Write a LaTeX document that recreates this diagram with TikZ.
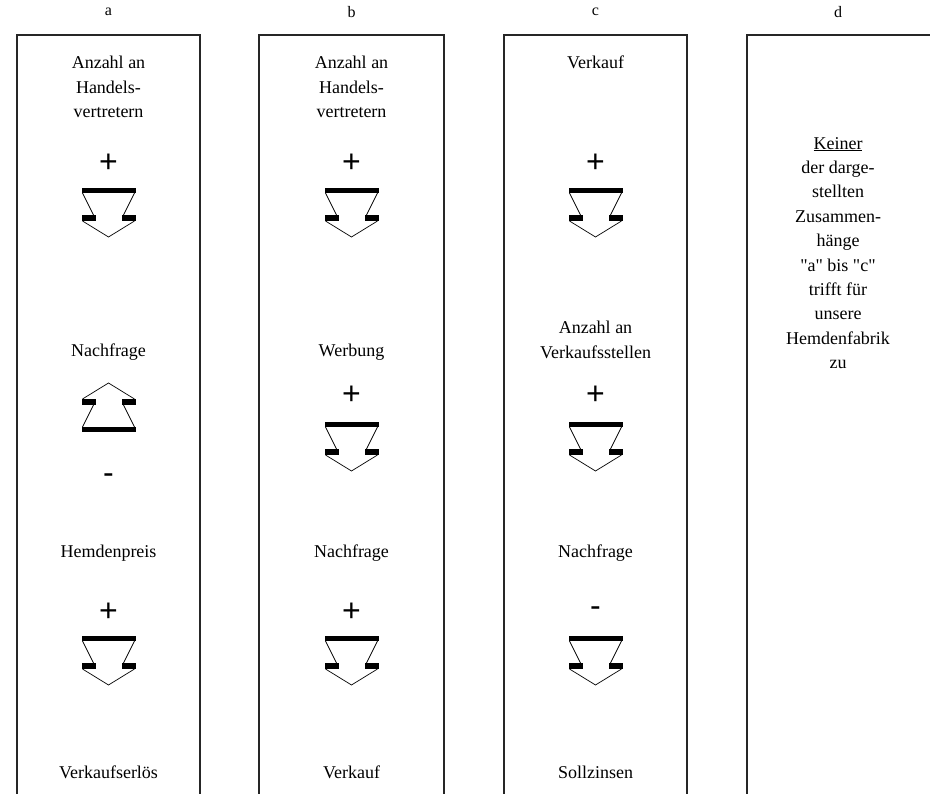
\documentclass[tikz,border=0pt]{standalone}
\usepackage{fontspec}
\setmainfont{Liberation Serif}
\newfontfamily\serif{Liberation Serif}
\newfontfamily\signfont{Liberation Sans}
\begin{document}
\begin{tikzpicture}[x=1pt,y=-1pt,
  lbl/.style={font=\serif\fontsize{18}{24.5}\selectfont, align=center, inner sep=0pt},
  hdr/.style={font=\serif\fontsize{16}{19}\selectfont, inner sep=0pt},
  sgn/.style={font=\signfont\fontsize{32}{32}\selectfont, inner sep=0pt},
  col/.style={line width=1.5pt, draw=black!85},
  darr/.pic={
    \fill (-27,0) rectangle (27,5);
    \draw[line width=0.8pt] (-26,5) -- (-15,27);
    \draw[line width=0.8pt] (26,5) -- (15,27);
    \fill (-27,27) rectangle (-13,33);
    \fill (13,27) rectangle (27,33);
    \draw[line width=0.7pt] (-26,33) -- (0,49) -- (26,33);
  },
  uarr/.pic={
    \fill (-27,49) rectangle (27,44);
    \draw[line width=0.8pt] (-26,44) -- (-15,22);
    \draw[line width=0.8pt] (26,44) -- (15,22);
    \fill (-27,22) rectangle (-13,16);
    \fill (13,22) rectangle (27,16);
    \draw[line width=0.7pt] (-26,16) -- (0,0) -- (26,16);
  }
]
\useasboundingbox (0,0) rectangle (930,794);
% column frames
\draw[col] (17,794) -- (17,35) -- (200,35) -- (200,794);
\draw[col] (259,794) -- (259,35) -- (444,35) -- (444,794);
\draw[col] (504,794) -- (504,35) -- (687,35) -- (687,794);
\draw[col] (747,794) -- (747,35) -- (931,35);
% headers
\node[hdr] (ha) at (108.5,12) {a};
\node[hdr] (hb) at (351.5,12) {b};
\node[hdr] (hc) at (595.5,12) {c};
\node[hdr] (hd) at (838,12) {d};
% column a
\node[lbl] (a1) at (108.5,87) {Anzahl an\\Handels-\\vertretern};
\node[sgn] (as1) at (108.5,163) {+};
\pic at (108.5,188) {darr};
\node[lbl] (a2) at (108.5,352) {Nachfrage};
\pic at (108.5,383) {uarr};
\node[sgn] (as2) at (108.5,479) {-};
\node[lbl] (a3) at (108.5,553) {Hemdenpreis};
\node[sgn] (as3) at (108.5,612) {+};
\pic at (108.5,636) {darr};
\node[lbl] (a4) at (108.5,772) {Verkaufserlös};
% column b
\node[lbl] (b1) at (351.5,87) {Anzahl an\\Handels-\\vertretern};
\node[sgn] (bs1) at (351.5,163) {+};
\pic at (351.5,188) {darr};
\node[lbl] (b2) at (351.5,352) {Werbung};
\node[sgn] (bs2) at (351.5,395) {+};
\pic at (351.5,422) {darr};
\node[lbl] (b3) at (351.5,553) {Nachfrage};
\node[sgn] (bs3) at (351.5,612) {+};
\pic at (351.5,636) {darr};
\node[lbl] (b4) at (351.5,772) {Verkauf};
% column c
\node[lbl] (c1) at (595.5,62) {Verkauf};
\node[sgn] (cs1) at (595.5,163) {+};
\pic at (595.5,188) {darr};
\node[lbl] (c2) at (595.5,340) {Anzahl an\\Verkaufsstellen};
\node[sgn] (cs2) at (595.5,395) {+};
\pic at (595.5,422) {darr};
\node[lbl] (c3) at (595.5,553) {Nachfrage};
\node[sgn] (cs3) at (595.5,612) {-};
\pic at (595.5,636) {darr};
\node[lbl] (c4) at (595.5,772) {Sollzinsen};
% column d
\node[lbl, font=\serif\fontsize{18}{24.4}\selectfont] (d1) at (838,253) {\underline{Keiner}\\der darge-\\stellten\\Zusammen-\\hänge\\"a" bis "c"\\trifft für\\unsere\\Hemdenfabrik\\zu};
\end{tikzpicture}
\end{document}
